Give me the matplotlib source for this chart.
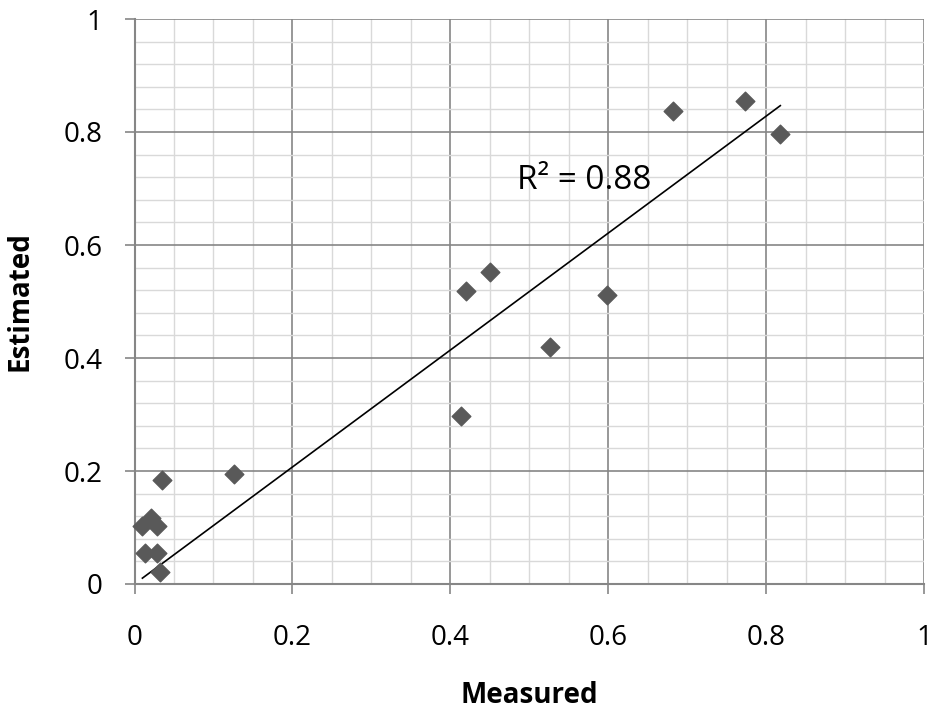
import numpy as np
import matplotlib.pyplot as plt
from matplotlib.ticker import MultipleLocator

# measured vs estimated values
measured = [0.010, 0.021, 0.029, 0.013, 0.029, 0.032, 0.035, 0.126,
            0.414, 0.420, 0.450, 0.526, 0.598, 0.682, 0.773, 0.818]
estimated = [0.103, 0.116, 0.103, 0.054, 0.054, 0.021, 0.184, 0.195,
             0.298, 0.519, 0.552, 0.419, 0.511, 0.838, 0.854, 0.797]
ticks = [0, 0.2, 0.4, 0.6, 0.8, 1]
tick_labels = ["0", "0.2", "0.4", "0.6", "0.8", "1"]
r2_label = "R² = 0.88"

x = np.array(measured)
y = np.array(estimated)
# linear trendline forced through the origin
slope = np.sum(x * y) / np.sum(x * x)
xs = np.array([x.min(), x.max()])

plt.rcParams["font.family"] = ["Open Sans", "DejaVu Sans"]

fig = plt.figure(figsize=(9.32, 7.09), dpi=100)
ax = fig.add_axes([134.5 / 932, 1 - 584 / 709, 789.5 / 932, 565 / 709])

ax.set_xlim(0, 1)
ax.set_ylim(0, 1)
ax.set_xticks(ticks)
ax.set_xticklabels(tick_labels)
ax.set_yticks(ticks)
ax.set_yticklabels(tick_labels)
ax.xaxis.set_minor_locator(MultipleLocator(0.05))
ax.yaxis.set_minor_locator(MultipleLocator(0.04))
ax.grid(which="minor", color="#d9d9d9", lw=1)
ax.grid(which="major", color="#868686", lw=1.2)
ax.set_axisbelow(True)

for s in ["top", "right"]:
    ax.spines[s].set_visible(False)
for s in ["left", "bottom"]:
    ax.spines[s].set_color("#868686")
    ax.spines[s].set_linewidth(1.5)

ax.tick_params(which="major", direction="out", length=7, width=1.2,
               color="#868686", labelsize=20)
ax.tick_params(axis="x", which="major", pad=22)
ax.tick_params(axis="y", which="major", pad=16)
ax.tick_params(which="minor", length=0)

ax.plot(xs, slope * xs, color="black", lw=1.2, zorder=3)
ax.scatter(x, y, marker="D", s=90, color="#595959", zorder=4, clip_on=False)

ax.text(0.4845, 0.715, r2_label, fontsize=24, ha="left", va="center")

ax.set_xlabel("Measured", fontsize=20, fontweight="bold")
ax.set_ylabel("Estimated", fontsize=20, fontweight="bold")
ax.xaxis.set_label_coords(0.5, -0.172)
ax.yaxis.set_label_coords(-0.127, 0.5)

fig.savefig("out.png", dpi=100)
